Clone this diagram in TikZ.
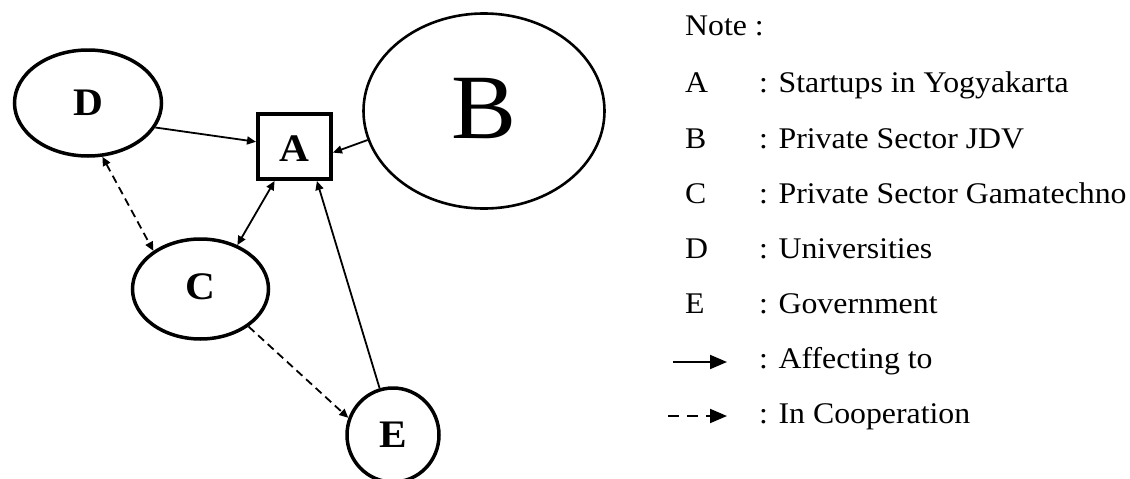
\documentclass[tikz,border=0pt]{standalone}
\usepackage{fontspec}
\setmainfont{Liberation Serif}[FakeStretch=1.06]
\usetikzlibrary{arrows.meta,shapes.geometric}

\tikzset{
  actor/.style={draw, ellipse, line width=3.5pt, inner sep=0pt},
  actorbig/.style={draw, ellipse, line width=2.6pt, inner sep=0pt},
  hub/.style={draw, rectangle, line width=4pt, inner sep=0pt,
              minimum width=73pt, minimum height=65pt},
  letter/.style={font=\fontsize{39}{39}\selectfont\bfseries},
  affects/.style={line width=1.8pt, -{Triangle[length=9pt,width=8pt]}},
  affectsboth/.style={line width=1.8pt, {Triangle[length=9pt,width=8pt]}-{Triangle[length=9pt,width=8pt]}},
  coop/.style={line width=1.8pt, dash pattern=on 8pt off 5pt,
               {Triangle[length=9pt,width=8pt]}-{Triangle[length=9pt,width=8pt]}},
  coopone/.style={line width=1.8pt, dash pattern=on 8pt off 5pt,
               -{Triangle[length=9pt,width=8pt]}},
  note/.style={font=\fontsize{30}{30}\selectfont, anchor=base west, inner sep=0pt},
}

\begin{document}
\begin{tikzpicture}[x=1pt, y=-1pt]
  \useasboundingbox (0,0) rectangle (1130,479);
  \clip (0,0) rectangle (1130,479);

  % actors
  \node[hub, label={[letter, yshift=-2pt]center:A}] (A) at (294.5,146.5) {};
  \node[actorbig, minimum width=241pt, minimum height=195pt,
        label={[font=\fontsize{92}{92}\selectfont, yshift=2pt]center:B}] (B) at (484,111) {};
  \node[actor, minimum width=136pt, minimum height=100pt,
        label={[letter, yshift=2pt]center:C}] (C) at (200.5,289) {};
  \node[actor, minimum width=147pt, minimum height=106pt,
        label={[letter]center:D}] (D) at (88,103) {};
  \node[actor, minimum width=92pt, minimum height=94pt,
        label={[letter]center:E}] (E) at (393,435) {};

  % influence on the startups
  \draw[affects] (D.-20) -- (A.173);
  \draw[affects] (B.194) -- (A.-9);
  \draw[affectsboth] (C.50) -- (A.240);
  \draw[affects] (E.106) -- (A.-57);

  % cooperation
  \draw[coop] (D.-75) -- (C.141);
  \draw[coopone] (C.-38) -- (E.159);

  % legend
  \node[note] (note) at (685,35) {Note :};
  \node[note] (kA) at (685,92) {A};
  \node[note] (kB) at (685,148) {B};
  \node[note] (kC) at (685,203) {C};
  \node[note] (kD) at (685,258) {D};
  \node[note] (kE) at (685,313) {E};
  \node[note] (tA) at (759,92) {: Startups in Yogyakarta};
  \node[note] (tB) at (759,148) {: Private Sector JDV};
  \node[note] (tC) at (759,203) {: Private Sector Gamatechno};
  \node[note] (tD) at (759,258) {: Universities};
  \node[note] (tE) at (759,313) {: Government};
  \node[note] (tS) at (759,368) {: Affecting to};
  \node[note] (tK) at (759,423) {: In Cooperation};

  \coordinate (s0) at (673,362);
  \coordinate (s1) at (727,362);
  \coordinate (k0) at (668,416);
  \coordinate (k1) at (727,416);
  \draw[line width=2pt, -{Triangle[length=17pt,width=14pt]}] (s0) -- (s1);
  \draw[line width=2pt, dash pattern=on 11pt off 8pt,
        -{Triangle[length=17pt,width=14pt]}] (k0) -- (k1);
\end{tikzpicture}
\end{document}
